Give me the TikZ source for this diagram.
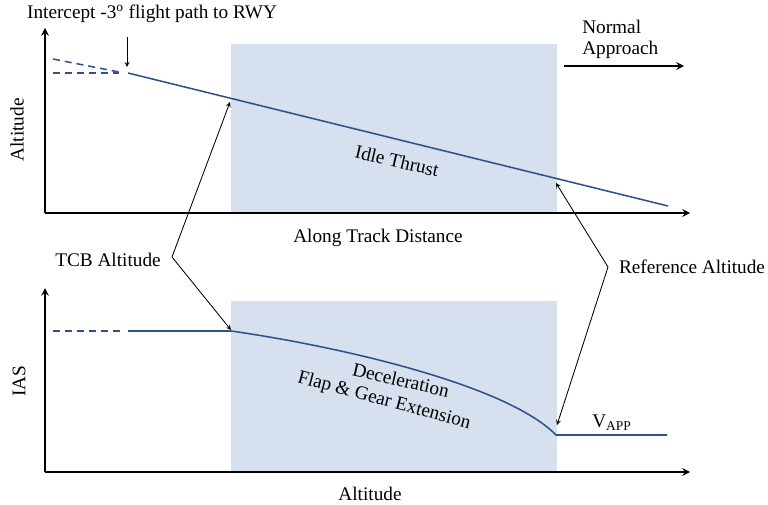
\documentclass[tikz,border=0pt]{standalone}
\usepackage{fontspec}
\setmainfont{Liberation Serif}
\definecolor{shade}{RGB}{214,224,238}
\definecolor{path}{RGB}{47,82,143}
\tikzset{ax/.style  = {line width=1.4pt, -stealth},
         fp/.style  = {line width=1.1pt, color=path},
         fd/.style  = {fp, dashed, dash pattern=on 5pt off 3.5pt},
         cb/.style  = {line width=0.6pt, -stealth},
         lb/.style  = {font=\fontsize{13.7}{15}\selectfont, inner sep=0pt},
         bx/.style  = {fill=shade, draw=none}}

\begin{document}
\begin{tikzpicture}[x=0.025cm, y=-0.025cm, >=stealth]
    \useasboundingbox (0,0) rectangle (768,505);
    % shaded regions
    \fill[bx] (231,44) rectangle (557,213);
    \fill[bx] (231,301) rectangle (557,471);
    % upper panel: altitude vs distance
    \coordinate (o1) at (45,213);
    \draw[ax] (o1) -- (45,28);
    \draw[ax] (o1) -- (690,213);
    \coordinate (p0) at (128,73); \coordinate (p1) at (668,206);
    \draw[fp] (p0) -- (p1);
    \draw[fd] (53,59) -- (119,72);
    \draw[fd] (53,73) -- (119,73);
    % lower panel: IAS vs altitude
    \coordinate (o2) at (45,472);
    \draw[ax] (o2) -- (45,288);
    \draw[ax] (o2) -- (690,472);
    \coordinate (q0) at (128,331); \coordinate (q1) at (231,331);
    \coordinate (q2) at (556,435); \coordinate (q3) at (667,435);
    \draw[fd] (53,331) -- (124,331);
    \draw[fp] (q0) -- (q1) .. controls (330,345) and (505,383) .. (q2) -- (q3);
    % labels
    \node[lb] (icpt) at (152,14) {Intercept -3\textsuperscript{o} flight path to RWY};
    \node[lb, rotate=90] (yl1) at (17,130) {Altitude};
    \node[lb, rotate=90] (yl2) at (19,381) {IAS};
    \node[lb] (xl1) at (378,238) {Along Track Distance};
    \node[lb] (xl2) at (370,494) {Altitude};
    \node[lb, align=left, anchor=west] (norm) at (582,39) {Normal\\Approach};
    \node[lb, rotate=-13] (idle) at (397,161) {Idle Thrust};
    \node[lb, rotate=-13] (decl) at (401,380) {Deceleration};
    \node[lb, rotate=-15] (flap) at (384,401) {Flap \& Gear Extension};
    \node[lb] (vapp) at (612,423) {V\textsubscript{APP}};
    \node[lb] (tcb) at (108,260) {TCB Altitude};
    \node[lb] (ref) at (692,267) {Reference Altitude};
    % callouts
    \coordinate (ik) at (127,37); \coordinate (it) at (127,67);
    \draw[cb] (ik) -- (it);
    \coordinate (na) at (564,66); \coordinate (nb) at (684,66);
    \draw[ax] (na) -- (nb);
    \coordinate (tk) at (172,257);
    \coordinate (t1) at (230,102); \coordinate (t2) at (231,330);
    \draw[cb] (tk) -- (t1);
    \draw[cb] (tk) -- (t2);
    \coordinate (rk) at (608,267);
    \coordinate (r1) at (556,183); \coordinate (r2) at (557,425);
    \draw[cb] (rk) -- (r1);
    \draw[cb] (rk) -- (r2);
\end{tikzpicture}
\end{document}
